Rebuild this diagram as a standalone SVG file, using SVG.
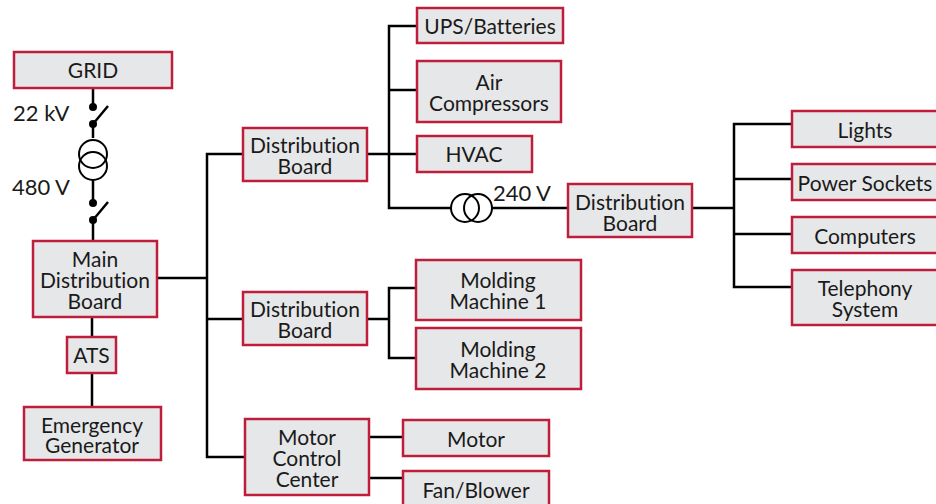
<svg xmlns="http://www.w3.org/2000/svg" width="936" height="504" viewBox="0 0 936 504">
<style>
.b{fill:#e6e7e8;stroke:#be1e3c;stroke-width:2.5}
.t{font-family:Lato,"Open Sans",sans-serif;font-size:21px;font-variant-ligatures:none;fill:#1a1a1a;text-anchor:middle}
.l{font-family:Lato,"Open Sans",sans-serif;font-size:22px;fill:#1a1a1a}
.c{fill:none;stroke:#000;stroke-width:2.5}
.x{fill:none;stroke:#000;stroke-width:2}
.d{fill:#000}
</style>
<rect width="936" height="504" fill="#fff"/>
<g id="connectors">
<path class="c" d="M93 88V107M93 124V138M93 180V203M93 220V241M92 317V337M92 373V407"/>
<path class="c" d="M93 124L108 106M93 220L108 202"/>
<circle class="d" cx="93" cy="107" r="4"/><circle class="d" cx="93" cy="124" r="4"/><circle class="d" cx="93" cy="203" r="4"/><circle class="d" cx="93" cy="220" r="4"/>
<circle class="x" cx="93" cy="154" r="14"/><circle class="x" cx="93" cy="166" r="14"/>
<path class="c" d="M157 278H207M243 154H207V457H245M207 319H243"/>
<path class="c" d="M367 154H417M417 26H389V208H451M492 208H568M389 90H417"/>
<circle class="x" cx="465" cy="208" r="14"/><circle class="x" cx="478" cy="208" r="14"/>
<path class="c" d="M692 208H734M792 124H734V287H792M734 179H792M734 234H792"/>
<path class="c" d="M367 319H389M416 288H389V358H416"/>
<path class="c" d="M369 437H403M369 478H403"/>
</g>
<g id="grid"><rect class="b" x="14" y="52" width="158" height="36"/><text class="t" x="93" y="78">GRID</text></g>
<g id="v22"><text class="l" x="13" y="121">22 kV</text></g>
<g id="v480"><text class="l" x="12" y="195">480 V</text></g>
<g id="main"><rect class="b" x="33" y="241" width="124" height="76"/><text class="t" x="95" y="267">Main</text><text class="t" x="95" y="288">Distribution</text><text class="t" x="95" y="309">Board</text></g>
<g id="ats"><rect class="b" x="67" y="337" width="49" height="36"/><text class="t" x="91.500" y="363">ATS</text></g>
<g id="generator"><rect class="b" x="24" y="407" width="137" height="53"/><text class="t" x="92" y="433">Emergency</text><text class="t" x="92" y="453">Generator</text></g>
<g id="db1"><rect class="b" x="243" y="128" width="124" height="53"/><text class="t" x="305" y="153">Distribution</text><text class="t" x="305" y="174">Board</text></g>
<g id="db2"><rect class="b" x="243" y="292" width="124" height="53"/><text class="t" x="305" y="317">Distribution</text><text class="t" x="305" y="338">Board</text></g>
<g id="mcc"><rect class="b" x="245" y="419" width="124" height="76"/><text class="t" x="307" y="445">Motor</text><text class="t" x="307" y="466">Control</text><text class="t" x="307" y="487">Center</text></g>
<g id="ups"><rect class="b" x="417" y="8" width="146" height="35"/><text class="t" x="490" y="34">UPS/Batteries</text></g>
<g id="air"><rect class="b" x="417" y="61" width="144" height="61"/><text class="t" x="489" y="90">Air</text><text class="t" x="489" y="111">Compressors</text></g>
<g id="hvac"><rect class="b" x="417" y="136" width="115" height="36"/><text class="t" x="474" y="162">HVAC</text></g>
<g id="v240"><text class="l" x="493" y="201">240 V</text></g>
<g id="db3"><rect class="b" x="568" y="184" width="124" height="53"/><text class="t" x="630" y="210">Distribution</text><text class="t" x="630" y="231">Board</text></g>
<g id="mm1"><rect class="b" x="416" y="260" width="165" height="60"/><text class="t" x="498" y="288">Molding</text><text class="t" x="498" y="309">Machine 1</text></g>
<g id="mm2"><rect class="b" x="416" y="328" width="165" height="61"/><text class="t" x="498" y="357">Molding</text><text class="t" x="498" y="378">Machine 2</text></g>
<g id="motor"><rect class="b" x="403" y="420" width="146" height="36"/><text class="t" x="476" y="447">Motor</text></g>
<g id="fan"><rect class="b" x="403" y="471" width="146" height="36"/><text class="t" x="476" y="498">Fan/Blower</text></g>
<g id="lights"><rect class="b" x="792" y="111" width="150" height="36"/><text class="t" x="865" y="138">Lights</text></g>
<g id="sockets"><rect class="b" x="792" y="164" width="150" height="36"/><text class="t" x="865" y="191">Power Sockets</text></g>
<g id="computers"><rect class="b" x="792" y="217" width="150" height="36"/><text class="t" x="865" y="244">Computers</text></g>
<g id="telephony"><rect class="b" x="792" y="270" width="150" height="55"/><text class="t" x="865" y="296">Telephony</text><text class="t" x="865" y="317">System</text></g>
</svg>
